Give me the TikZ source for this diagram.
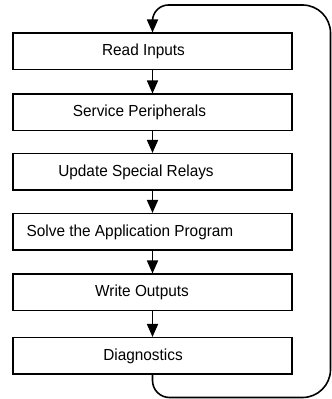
\documentclass[tikz,border=0pt]{standalone}
\usepackage{fontspec}
\setmainfont{Liberation Sans}[FakeStretch=0.96]
\usetikzlibrary{arrows.meta}
\begin{document}
\begin{tikzpicture}[x=1pt,y=1pt,
  stepbox/.style={draw=black,line width=1.5pt,minimum width=279pt,minimum height=36.5pt,inner sep=0pt},
  lbl/.style={font=\fontsize{16}{18}\selectfont,inner sep=0pt,anchor=center},
  flow/.style={draw=black,line width=1.6pt,-{Triangle[length=13pt,width=11pt]}}]
\useasboundingbox (0,0) rectangle (332,399);
\node[stepbox] (d1) at (152.5,347.5) {};
\node[stepbox] (d2) at (152.5,286.5) {};
\node[stepbox] (d3) at (152.5,227) {};
\node[stepbox] (d4) at (152.5,167) {};
\node[stepbox] (d5) at (152.5,106.5) {};
\node[stepbox] (d6) at (152.5,43) {};
\node[lbl] (t1) at (143.5,347.5) {Read Inputs};
\node[lbl] (t2) at (139.5,286.5) {Service Peripherals};
\node[lbl] (t3) at (136,227) {Update Special Relays};
\node[lbl] (t4) at (130,167) {Solve the Application Program};
\node[lbl] (t5) at (142,106.5) {Write Outputs};
\node[lbl] (t6) at (143,43) {Diagnostics};
\draw[flow] (d1) -- (d2);
\draw[flow] (d2) -- (d3);
\draw[flow] (d3) -- (d4);
\draw[flow] (d4) -- (d5);
\draw[flow] (d5) -- (d6);
\coordinate (c1) at (152.5,18.5);
\coordinate (c2) at (302.5,1.5);
\coordinate (c3) at (330.5,366);
\coordinate (c4) at (168.5,394);
\draw[flow] (d6.south) -- (c1) arc[start angle=180,end angle=270,radius=17]
  -- (c2) arc[start angle=270,end angle=360,radius=28]
  -- (c3) arc[start angle=0,end angle=90,radius=28]
  -- (c4) arc[start angle=90,end angle=180,radius=16] -- (d1.north);
\end{tikzpicture}
\end{document}
